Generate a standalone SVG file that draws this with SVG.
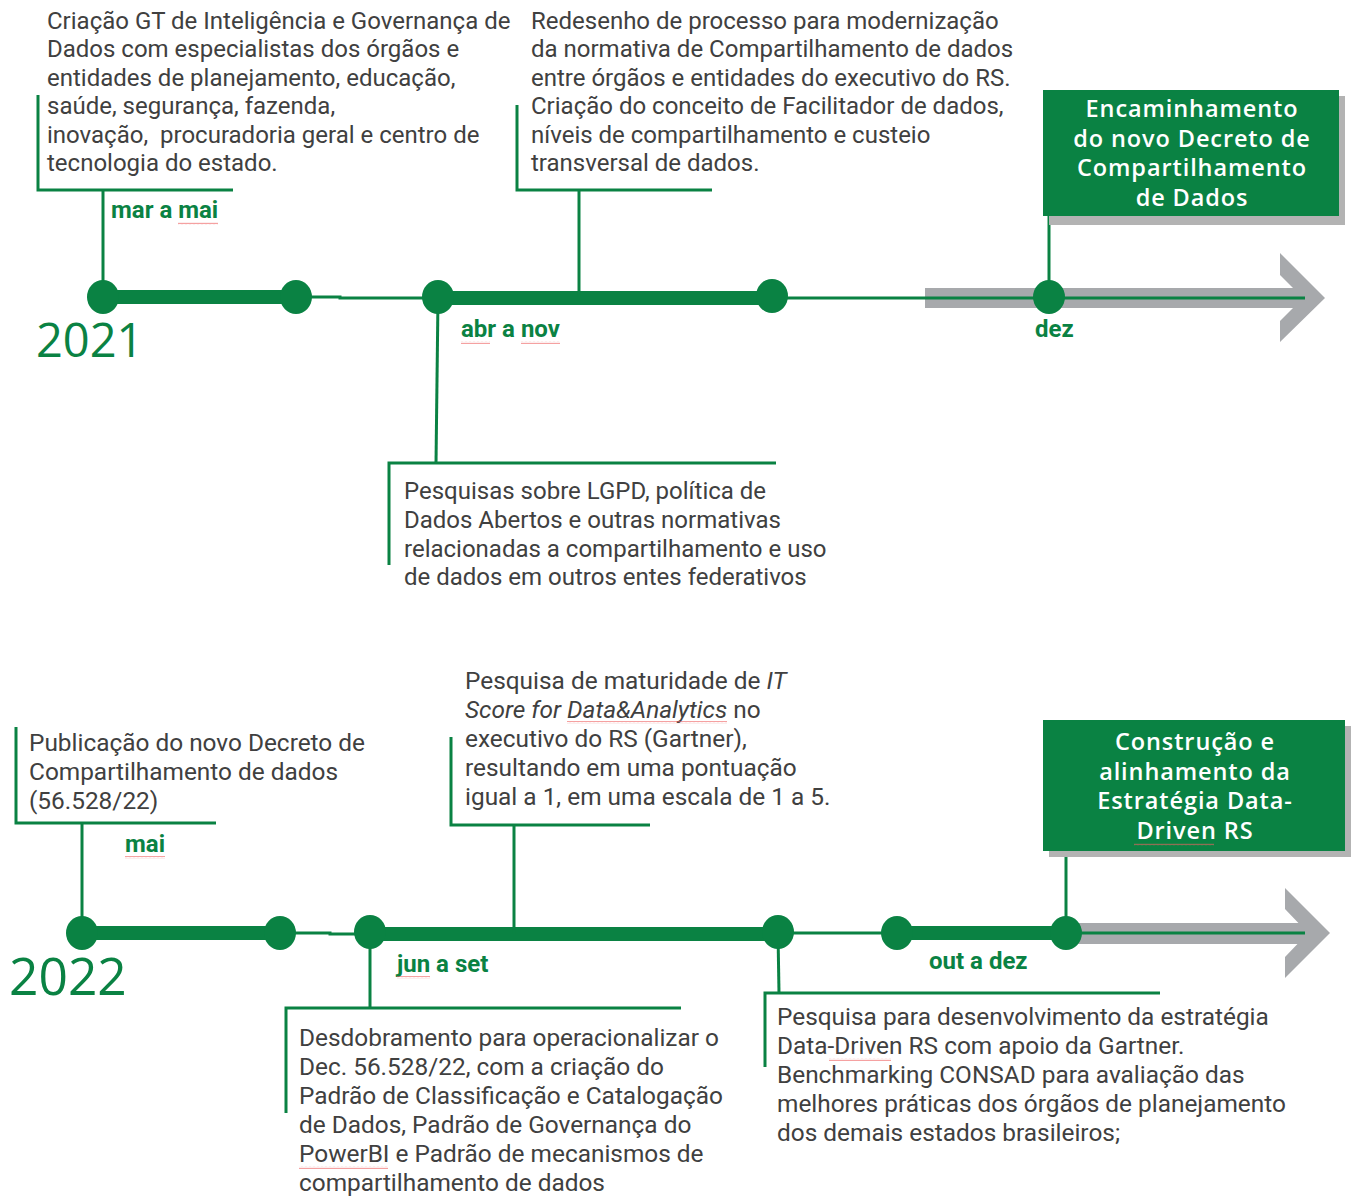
<svg xmlns="http://www.w3.org/2000/svg" width="1351" height="1197" viewBox="0 0 1351 1197">
<defs>
<style>
.body{font-family:Roboto,"Liberation Sans",sans-serif;font-size:24px;fill:#404040}
.b22{font-size:24.4px}
.lbl{font-family:Roboto,"Liberation Sans",sans-serif;font-size:24px;font-weight:700;fill:#0a8243}
.yr{font-family:"Open Sans","Liberation Sans",sans-serif;font-size:47px;fill:#0a8243}
.boxt{font-family:"Open Sans","Liberation Sans",sans-serif;font-size:23.5px;font-weight:600;letter-spacing:0.9px;fill:#ffffff;text-anchor:middle}
.ln{stroke:#0a8243;stroke-width:3;fill:none}
.thin{stroke:#0a8243;stroke-width:3;fill:none}
.bar{stroke:#0a8243;stroke-width:14;fill:none}
.dot{fill:#0a8243}
.gray{fill:#a7a9ac}
.box{fill:#0a8243}
.shadow{fill:#b3b3b3}
</style>
<pattern id="wave" width="4" height="3" patternUnits="userSpaceOnUse">
<path d="M0,2.2 L1,0.8 L2,2.2 L3,0.8 L4,2.2" stroke="#ee6060" stroke-width="0.6" fill="none"/>
</pattern>
</defs>

<g id="arrows">
<rect class="gray" x="925" y="288" width="378" height="20"/>
<polygon class="gray" points="1280,253 1325,298 1280,342 1280,321 1303,298 1280,275"/>
<rect class="gray" x="1066" y="923" width="242" height="21"/>
<polygon class="gray" points="1285,888 1330,933 1285,978 1285,957 1308,933 1285,909"/>
</g>

<g id="connectors">
<line class="bar" x1="103" y1="297" x2="296" y2="297"/>
<polyline class="thin" points="296,297 340,297 340,298 438,298"/>
<line class="bar" x1="438" y1="298" x2="772" y2="298"/>
<line class="thin" x1="772" y1="298" x2="1305" y2="298"/>
<line class="bar" x1="82" y1="933" x2="280" y2="933"/>
<polyline class="thin" points="280,933 330,933 330,934 370,934"/>
<line class="bar" x1="370" y1="934" x2="778" y2="934"/>
<line class="thin" x1="778" y1="933" x2="897" y2="933"/>
<line class="bar" x1="897" y1="933" x2="1066" y2="933"/>
<line class="thin" x1="1066" y1="933" x2="1305" y2="933"/>
<polyline class="ln" points="38,95 38,190 233,190"/>
<line class="ln" x1="103" y1="190" x2="103" y2="297"/>
<polyline class="ln" points="517,105 517,190 712,190"/>
<line class="ln" x1="579" y1="190" x2="579" y2="297"/>
<polyline class="ln" points="389,565 389,463 776,463"/>
<line class="ln" x1="438" y1="298" x2="436" y2="463"/>
<line class="ln" x1="1049" y1="215" x2="1049" y2="297"/>
<polyline class="ln" points="16,727 16,823 216,823"/>
<line class="ln" x1="82" y1="823" x2="82" y2="933"/>
<polyline class="ln" points="451,737 451,825 650,825"/>
<line class="ln" x1="514" y1="825" x2="514" y2="934"/>
<polyline class="ln" points="286,1113 286,1008 681,1008"/>
<line class="ln" x1="370" y1="934" x2="370" y2="1008"/>
<polyline class="ln" points="765,1067 765,993 1160,993"/>
<line class="ln" x1="778" y1="933" x2="779" y2="993"/>
<line class="ln" x1="1066" y1="851" x2="1066" y2="933"/>
</g>

<g id="dots">
<ellipse class="dot" cx="103" cy="297" rx="16" ry="17"/>
<ellipse class="dot" cx="296" cy="297" rx="16" ry="17"/>
<ellipse class="dot" cx="438" cy="297" rx="16" ry="17"/>
<ellipse class="dot" cx="772" cy="296" rx="16" ry="17"/>
<ellipse class="dot" cx="1049" cy="297" rx="16" ry="17"/>
<ellipse class="dot" cx="82" cy="933" rx="16" ry="17"/>
<ellipse class="dot" cx="280" cy="933" rx="16" ry="17"/>
<ellipse class="dot" cx="370" cy="932" rx="16" ry="17"/>
<ellipse class="dot" cx="778" cy="932" rx="16" ry="17"/>
<ellipse class="dot" cx="897" cy="933" rx="16" ry="17"/>
<ellipse class="dot" cx="1066" cy="933" rx="16" ry="17"/>
</g>

<g id="year-2021"><text class="yr" x="36" y="357">2021</text></g>
<g id="year-2022"><text class="yr" x="9" y="995" style="font-size:51.5px">2022</text></g>

<g id="label-mar-mai"><text class="lbl" x="111" y="218">mar a mai</text></g>
<g id="label-abr-nov"><text class="lbl" x="461" y="337">abr a nov</text></g>
<g id="label-dez"><text class="lbl" x="1035" y="337">dez</text></g>
<g id="label-mai"><text class="lbl" x="125" y="852">mai</text></g>
<g id="label-jun-set"><text class="lbl" x="397" y="972">jun a set</text></g>
<g id="label-out-dez"><text class="lbl" x="929" y="969">out a dez</text></g>

<g id="note-gt">
<text class="body" x="47" y="29">Criação GT de Inteligência e Governança de</text>
<text class="body" x="47" y="57">Dados com especialistas dos órgãos e</text>
<text class="body" x="47" y="86">entidades de planejamento, educação,</text>
<text class="body" x="47" y="114">saúde, segurança, fazenda,</text>
<text class="body" x="47" y="143" xml:space="preserve">inovação,  procuradoria geral e centro de</text>
<text class="body" x="47" y="171">tecnologia do estado.</text>
</g>

<g id="note-redesenho">
<text class="body" x="531" y="29">Redesenho de processo para modernização</text>
<text class="body" x="531" y="57">da normativa de Compartilhamento de dados</text>
<text class="body" x="531" y="86">entre órgãos e entidades do executivo do RS.</text>
<text class="body" x="531" y="114">Criação do conceito de Facilitador de dados,</text>
<text class="body" x="531" y="143">níveis de compartilhamento e custeio</text>
<text class="body" x="531" y="171">transversal de dados.</text>
</g>

<g id="note-lgpd">
<text class="body" x="404" y="499">Pesquisas sobre LGPD, política de</text>
<text class="body" x="404" y="528">Dados Abertos e outras normativas</text>
<text class="body" x="404" y="557">relacionadas a compartilhamento e uso</text>
<text class="body" x="404" y="585">de dados em outros entes federativos</text>
</g>

<g id="box-encaminhamento">
<rect class="shadow" x="1049" y="96" width="296" height="129"/>
<rect class="box" x="1043" y="90" width="296" height="126"/>
<text class="boxt" x="1192" y="117">Encaminhamento</text>
<text class="boxt" x="1192" y="146.5">do novo Decreto de</text>
<text class="boxt" x="1192" y="176">Compartilhamento</text>
<text class="boxt" x="1192" y="205.5">de Dados</text>
</g>

<g id="note-publicacao">
<text class="body b22" x="29" y="751">Publicação do novo Decreto de</text>
<text class="body b22" x="29" y="780">Compartilhamento de dados</text>
<text class="body b22" x="29" y="809">(56.528/22)</text>
</g>

<g id="note-itscore">
<text class="body b22" x="465" y="689">Pesquisa de maturidade de <tspan font-style="italic">IT</tspan></text>
<text class="body b22" x="465" y="718"><tspan font-style="italic">Score for Data&amp;Analytics</tspan> no</text>
<text class="body b22" x="465" y="747">executivo do RS (Gartner),</text>
<text class="body b22" x="465" y="776">resultando em uma pontuação</text>
<text class="body b22" x="465" y="805">igual a 1, em uma escala de 1 a 5.</text>
</g>

<g id="box-construcao">
<rect class="shadow" x="1049" y="726" width="302" height="131"/>
<rect class="box" x="1043" y="720" width="302" height="131"/>
<text class="boxt" x="1195" y="750">Construção e</text>
<text class="boxt" x="1195" y="779.5">alinhamento da</text>
<text class="boxt" x="1195" y="809">Estratégia Data-</text>
<text class="boxt" x="1195" y="838.5">Driven RS</text>
</g>

<g id="note-desdobramento">
<text class="body b22" x="299" y="1046">Desdobramento para operacionalizar o</text>
<text class="body b22" x="299" y="1075">Dec. 56.528/22, com a criação do</text>
<text class="body b22" x="299" y="1104">Padrão de Classificação e Catalogação</text>
<text class="body b22" x="299" y="1133">de Dados, Padrão de Governança do</text>
<text class="body b22" x="299" y="1162">PowerBI e Padrão de mecanismos de</text>
<text class="body b22" x="299" y="1191">compartilhamento de dados</text>
</g>

<g id="note-datadriven">
<text class="body b22" x="777" y="1025">Pesquisa para desenvolvimento da estratégia</text>
<text class="body b22" x="777" y="1054">Data-Driven RS com apoio da Gartner.</text>
<text class="body b22" x="777" y="1083">Benchmarking CONSAD para avaliação das</text>
<text class="body b22" x="777" y="1112">melhores práticas dos órgãos de planejamento</text>
<text class="body b22" x="777" y="1141">dos demais estados brasileiros;</text>
</g>

<g id="spellcheck">
<rect x="178" y="222" width="40" height="3" fill="url(#wave)"/>
<rect x="461" y="341" width="29" height="3" fill="url(#wave)"/>
<rect x="521" y="341" width="39" height="3" fill="url(#wave)"/>
<rect x="125" y="856" width="40" height="3" fill="url(#wave)"/>
<rect x="397" y="976" width="33" height="3" fill="url(#wave)"/>
<rect x="567" y="721" width="160" height="3" fill="url(#wave)"/>
<rect x="1134" y="843" width="80" height="3" fill="url(#wave)"/>
<rect x="299" y="1166" width="89" height="3" fill="url(#wave)"/>
<rect x="829" y="1058" width="62" height="3" fill="url(#wave)"/>
</g>
</svg>
